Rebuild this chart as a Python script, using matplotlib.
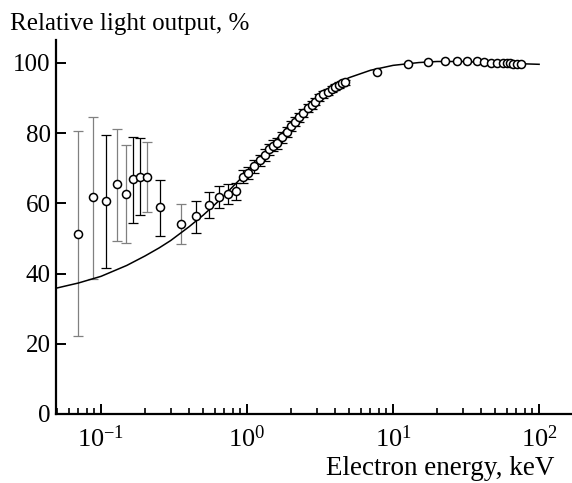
import numpy as np
import matplotlib
matplotlib.use('Agg')
import matplotlib.pyplot as plt
from matplotlib.ticker import LogLocator, NullFormatter

plt.rcParams['font.family'] = 'Liberation Serif'
plt.rcParams['mathtext.fontset'] = 'stix'
plt.rcParams['font.size'] = 18

# low-energy points, large error bars (energy keV, output %, upper, lower, colour)
low_e = [0.070, 0.0886, 0.108, 0.128, 0.148, 0.166, 0.186, 0.207, 0.254, 0.353,
         0.448, 0.547, 0.646, 0.745, 0.841, 0.94]
low_y = [51.3, 61.8, 60.7, 65.4, 62.7, 66.8, 67.6, 67.6, 58.9, 54.1,
         56.3, 59.4, 61.7, 62.6, 63.4, 67.4]
low_top = [80.7, 84.7, 79.5, 81.3, 76.5, 79.0, 78.6, 77.5, 66.7, 59.9,
           60.8, 63.2, 64.8, 65.4, 65.7, 69.5]
low_bot = [22.2, 38.5, 41.7, 49.3, 48.8, 54.5, 56.6, 57.5, 50.6, 48.3,
           51.5, 55.8, 58.6, 59.8, 61.0, 65.8]
low_col = ['gray', 'gray', 'k', 'gray', 'gray', 'k', 'k', 'gray', 'k', 'gray',
           'k', 'k', 'k', 'k', 'k', 'k']

# points along the rise, 1-5 keV
mid_e = [1.02, 1.12, 1.23, 1.33, 1.42, 1.51, 1.61, 1.73, 1.89, 2.0, 2.13, 2.28,
         2.43, 2.6, 2.77, 2.92, 3.13, 3.33, 3.57, 3.8, 4.0, 4.23, 4.46, 4.7]
mid_y = [68.6, 70.5, 72.2, 73.8, 75.4, 76.4, 77.1, 78.8, 80.4, 82.1, 83.3, 84.5,
         85.8, 87.1, 88.0, 89.0, 90.2, 91.1, 91.8, 92.5, 93.1, 93.7, 94.2, 94.5]
mid_err = [1.8, 1.8, 1.7, 1.7, 1.6, 1.6, 1.5, 1.5, 1.4, 1.4, 1.3, 1.3,
           1.2, 1.2, 1.1, 1.1, 1.0, 1.0, 0.9, 0.9, 0.8, 0.8, 0.7, 0.7]

# high-energy points
high_e = [7.7, 12.7, 17.4, 22.7, 27.3, 32.3, 37.5, 42.1, 46.9, 51.8, 56.3, 60.0,
          63.2, 66.6, 71.0, 75.6]
high_y = [97.3, 99.7, 100.2, 100.6, 100.6, 100.6, 100.5, 100.2, 100.1, 100.1,
          100.1, 100.1, 99.9, 99.8, 99.7, 99.7]
high_err = [0.6] * 16

# fitted curve
fit_e = [0.049, 0.07, 0.1, 0.15, 0.2, 0.25, 0.3, 0.4, 0.5, 0.6, 0.7, 0.85, 1.0,
         1.25, 1.5, 2.0, 2.5, 3.0, 4.0, 5.0, 7.0, 10.0, 15.0, 20.0, 30.0, 50.0, 100.0]
fit_y = [35.8, 37.3, 39.2, 42.3, 45.0, 47.3, 49.4, 53.3, 56.6, 59.6, 62.3, 65.9, 68.9,
         73.4, 77.1, 82.8, 87.0, 90.0, 93.8, 95.8, 97.9, 99.3, 100.1, 100.4, 100.4, 100.0, 99.6]

fig = plt.figure(figsize=(5.72, 4.83), dpi=100)
ax = fig.add_axes([0.098, 0.143, 0.902, 0.774])

ax.plot(fit_e, fit_y, color='k', lw=1.1, zorder=2)

for e, y, t, b, c in zip(low_e, low_y, low_top, low_bot, low_col):
    ax.errorbar([e], [y], yerr=[[y - b], [t - y]], fmt='none', ecolor=c,
                elinewidth=0.9, capsize=3.5, capthick=0.9, zorder=1)
ax.errorbar(mid_e, mid_y, yerr=mid_err, fmt='none', ecolor='k',
            elinewidth=0.9, capsize=3.5, capthick=0.9, zorder=1)
ax.errorbar(high_e, high_y, yerr=high_err, fmt='none', ecolor='k',
            elinewidth=0.9, capsize=0, zorder=1)

all_e = low_e + mid_e + high_e
all_y = low_y + mid_y + high_y
ax.plot(all_e, all_y, 'o', ms=5.8, mfc='white', mec='k', mew=1.1, zorder=3)

ax.set_xscale('log')
ax.set_xlim(0.0492, 168)
ax.set_ylim(0, 106.5)
ax.set_yticks([0, 20, 40, 60, 80, 100])
ax.xaxis.set_major_locator(LogLocator(base=10, numticks=10))
ax.xaxis.set_minor_locator(LogLocator(base=10, subs=np.arange(2, 10), numticks=10))
ax.xaxis.set_minor_formatter(NullFormatter())

for s in ['top', 'right']:
    ax.spines[s].set_visible(False)
for s in ['left', 'bottom']:
    ax.spines[s].set_linewidth(1.6)
ax.tick_params(which='major', direction='in', length=7, width=1.4)
ax.tick_params(which='minor', direction='in', length=4.5, width=1.2)
ax.tick_params(axis='x', which='major', pad=8, labelsize=19)
ax.tick_params(axis='y', pad=4)

fig.text(0.0175, 0.951, 'Relative light output, %', ha='left', va='center')
fig.text(0.970, 0.031, 'Electron energy, keV', ha='right', va='center',
         fontsize=19.5)

fig.savefig('out.png', dpi=100)
